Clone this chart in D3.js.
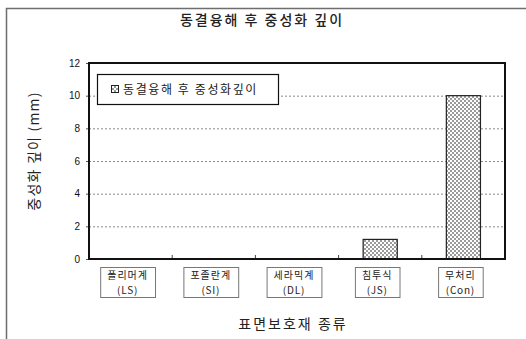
<!DOCTYPE html>
<html>
<head>
<meta charset="utf-8">
<script src="https://cdn.jsdelivr.net/npm/d3@7"></script>
<style>
  html, body { margin: 0; padding: 0; background: #fff; }
  svg { display: block; font-family: "Noto Sans CJK KR", "DejaVu Sans", sans-serif; }
</style>
</head>
<body>
<svg id="chart" width="526" height="339"></svg>
<script>
// ─── Data ─────────────────────────────────────────────────────────────────────
const categories = ["폴리머계", "포졸란계", "세라믹계", "침투식", "무처리"];
const codes      = ["(LS)", "(SI)", "(DL)", "(JS)", "(Con)"];
const values     = [0, 0, 0, 1.2, 10.0];
const yTicks     = [0, 2, 4, 6, 8, 10, 12];
const seriesName = "동결융해 후 중성화깊이";

const svg = d3.select("#chart");

// ─── Layout ───────────────────────────────────────────────────────────────────
const plot = { left: 89, right: 505, top: 63, bottom: 259 };

const x = d3.scaleBand()
    .domain(categories)
    .range([plot.left, plot.right])
    .paddingInner(0.59)
    .paddingOuter(0.295);

const xBand = d3.scaleBand()
    .domain(categories)
    .range([plot.left, plot.right]);

const y = d3.scaleLinear()
    .domain([0, 12])
    .range([plot.bottom, plot.top]);

// checker pattern for bars
const defs = svg.append("defs");
const pat = defs.append("pattern")
    .attr("id", "checker")
    .attr("width", 4).attr("height", 4)
    .attr("patternUnits", "userSpaceOnUse");
pat.append("rect").attr("width", 4).attr("height", 4).attr("fill", "#fff");
pat.append("rect").attr("width", 2).attr("height", 2).attr("fill", "#9a9a9a");
pat.append("rect").attr("x", 2).attr("y", 2).attr("width", 2).attr("height", 2).attr("fill", "#9a9a9a");

// ─── Outer frame (only top/left visible) ──────────────────────────────────────
svg.append("path")
    .attr("d", "M6.5,339 L6.5,8.5 L526,8.5")
    .attr("fill", "none")
    .attr("stroke", "#6e6e6e")
    .attr("stroke-width", 1.5);

// ─── Title ────────────────────────────────────────────────────────────────────
svg.append("text")
    .attr("x", 262).attr("y", 25)
    .attr("text-anchor", "middle")
    .attr("font-size", 14)
    .attr("font-weight", 500)
    .attr("letter-spacing", 2)
    .attr("fill", "#222")
    .text("동결융해 후 중성화 깊이");

// ─── Gridlines ────────────────────────────────────────────────────────────────
svg.append("g")
    .selectAll("line")
    .data(yTicks.filter(t => t > 0 && t < 12))
    .join("line")
    .attr("x1", plot.left).attr("x2", plot.right)
    .attr("y1", d => y(d) + 0.5).attr("y2", d => y(d) + 0.5)
    .attr("stroke", "#8a8a8a")
    .attr("stroke-width", 1)
    .attr("stroke-dasharray", "2,2");

// ─── Y axis labels ────────────────────────────────────────────────────────────
const yAxis = d3.axisLeft(y).tickValues(yTicks).tickSize(3).tickPadding(6);
const gy = svg.append("g")
    .attr("transform", `translate(${plot.left},0)`)
    .call(yAxis);
gy.select(".domain").remove();
gy.selectAll(".tick line").attr("stroke", "#555");
gy.selectAll("text")
    .attr("font-size", 10)
    .attr("font-family", "Arial, 'Liberation Sans', sans-serif")
    .attr("fill", "#111");

svg.append("text")
    .attr("transform", `translate(39,151) rotate(-90)`)
    .attr("text-anchor", "middle")
    .attr("font-size", 14)
    .attr("letter-spacing", 1.2)
    .attr("fill", "#222")
    .text("중성화 깊이 (mm)");

// ─── Bars ─────────────────────────────────────────────────────────────────────
svg.append("g")
    .selectAll("rect")
    .data(values.map((v, i) => ({ cat: categories[i], v })).filter(d => d.v > 0))
    .join("rect")
    .attr("x", d => x(d.cat))
    .attr("y", d => y(d.v))
    .attr("width", x.bandwidth())
    .attr("height", d => y(0) - y(d.v))
    .attr("fill", "url(#checker)")
    .attr("stroke", "#222")
    .attr("stroke-width", 1.2);

// bottom inward ticks at band boundaries
svg.append("g")
    .selectAll("line")
    .data(categories.slice(1))
    .join("line")
    .attr("x1", d => xBand(d)).attr("x2", d => xBand(d))
    .attr("y1", plot.bottom).attr("y2", plot.bottom - 4)
    .attr("stroke", "#444");

// plot border
svg.append("rect")
    .attr("x", plot.left).attr("y", plot.top)
    .attr("width", plot.right - plot.left)
    .attr("height", plot.bottom - plot.top)
    .attr("fill", "none")
    .attr("stroke", "#111")
    .attr("stroke-width", 2);

// ─── Legend ───────────────────────────────────────────────────────────────────
const lg = svg.append("g");
lg.append("rect")
    .attr("x", 97.5).attr("y", 74.5)
    .attr("width", 181).attr("height", 30)
    .attr("fill", "#fff")
    .attr("stroke", "#111")
    .attr("stroke-width", 1.2);
lg.append("rect")
    .attr("x", 111.5).attr("y", 85.5)
    .attr("width", 7).attr("height", 7)
    .attr("fill", "url(#checker)")
    .attr("stroke", "#222");
lg.append("text")
    .attr("x", 123).attr("y", 93.5)
    .attr("font-size", 12)
    .attr("letter-spacing", 1.6)
    .attr("fill", "#222")
    .text(seriesName);

// ─── Category label boxes ─────────────────────────────────────────────────────
const labels = svg.append("g")
    .selectAll("g")
    .data(categories.map((c, i) => ({ cat: c, code: codes[i] })))
    .join("g")
    .attr("transform", d => `translate(${xBand(d.cat) + xBand.bandwidth() / 2 - 3},0)`);

labels.append("text")
    .attr("class", "l1")
    .attr("y", 279)
    .attr("text-anchor", "middle")
    .attr("font-size", 10)
    .attr("letter-spacing", 1)
    .attr("fill", "#222")
    .text(d => d.cat);
labels.append("text")
    .attr("y", 293.5)
    .attr("text-anchor", "middle")
    .attr("font-size", 10)
    .attr("letter-spacing", 0.8)
    .attr("fill", "#222")
    .text(d => d.code);

labels.each(function() {
    const g = d3.select(this);
    const w = g.select(".l1").node().getBBox().width + 14;
    g.insert("rect", "text")
        .attr("x", -w / 2 + 0.5).attr("y", 267.5)
        .attr("width", w).attr("height", 30)
        .attr("fill", "#fff")
        .attr("stroke", "#777")
        .attr("stroke-width", 1);
});

// ─── X axis title ─────────────────────────────────────────────────────────────
svg.append("text")
    .attr("x", 293).attr("y", 329)
    .attr("text-anchor", "middle")
    .attr("font-size", 14)
    .attr("letter-spacing", 2)
    .attr("fill", "#222")
    .text("표면보호재 종류");
</script>
</body>
</html>
